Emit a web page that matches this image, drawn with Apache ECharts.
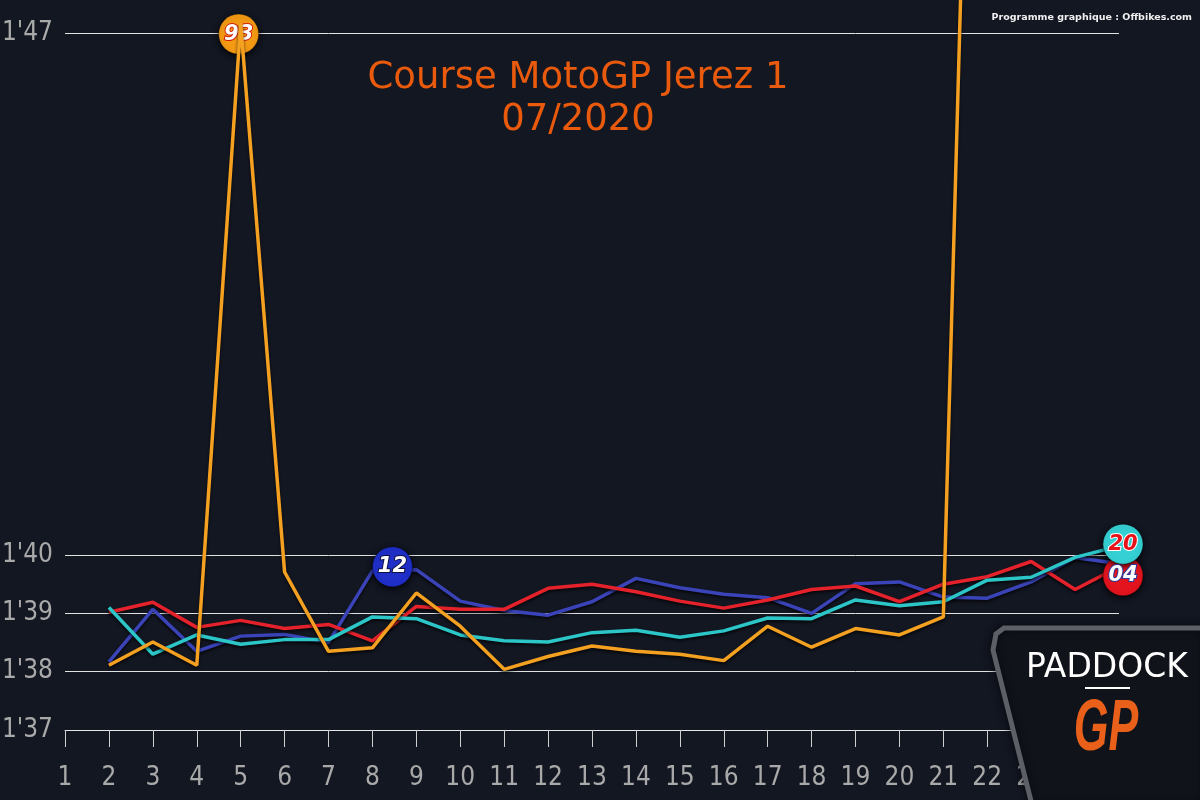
<!DOCTYPE html>
<html><head><meta charset="utf-8">
<script src="https://cdn.jsdelivr.net/npm/echarts@6/dist/echarts.min.js"></script>
<style>html,body{margin:0;padding:0;background:#131722;}#c{width:1200px;height:800px;}</style>
</head><body><div id="c"></div>
<script>
// laps (x) and lap times in seconds (y)
const lapsMarquez = [2,3,4,5,6,7,8,9,10,11,12,13,14,15,16,17,18,19,20,21,22];
const lapsOthers  = [2,3,4,5,6,7,8,9,10,11,12,13,14,15,16,17,18,19,20,21,22,23,24,25];
const marquez93   = [98.11,98.51,98.11,107.17,99.71,98.35,98.41,99.35,98.78,98.04,98.26,98.44,98.35,98.30,98.19,98.78,98.42,98.74,98.63,98.94,124];
const vinales12   = [98.17,99.07,98.35,98.61,98.64,98.50,99.73,99.75,99.21,99.05,98.97,99.20,99.60,99.44,99.33,99.27,99.00,99.51,99.54,99.28,99.26,99.54,99.96,99.85];
const quartararo20= [99.10,98.30,98.63,98.47,98.55,98.55,98.94,98.91,98.63,98.53,98.51,98.67,98.71,98.59,98.70,98.92,98.91,99.23,99.13,99.20,99.57,99.62,99.96,100.12];
const dovizioso04 = [99.02,99.19,98.76,98.88,98.74,98.81,98.53,99.12,99.07,99.07,99.43,99.50,99.37,99.21,99.09,99.23,99.41,99.47,99.20,99.50,99.63,99.89,99.41,99.80];
const yTickLabels = {97:"1'37",98:"1'38",99:"1'39",100:"1'40",107:"1'47"};
const breakGridValues = [100, 107];
const titleText = "Course MotoGP Jerez 1\n07/2020";
const creditText = "Programme graphique : Offbikes.com";

const pairs = (xs, ys) => ys.map((v, i) => [xs[i], v]);
const lineStyleOf = c => ({color: c, width: 3.5, shadowColor: 'rgba(0,0,0,0.7)', shadowBlur: 3, shadowOffsetY: 2});
const narrowFont = '"DejaVu Sans Condensed", "Liberation Sans Narrow", "Liberation Sans", sans-serif';

function badge(x, y, text, fill, txtColor, txtBorder, offset) {
  return {
    coord: [x, y], symbol: 'circle', symbolSize: 40, symbolOffset: offset,
    itemStyle: {color: fill, borderColor: 'rgba(0,0,0,0.35)', borderWidth: 1, shadowColor: 'rgba(0,0,0,0.8)', shadowBlur: 6, shadowOffsetY: 2},
    label: {show: true, position: 'inside', formatter: text, color: txtColor, fontSize: 21, fontWeight: 'bold', fontStyle: 'italic',
      fontFamily: 'DejaVu Sans', textBorderColor: txtBorder, textBorderWidth: 2}
  };
}

const chart = echarts.init(document.getElementById('c'), null, {renderer: 'canvas'});
chart.setOption({
  backgroundColor: '#131722',
  animation: false,
  grid: {left: 65, right: 81, top: 0, bottom: 70, containLabel: false, outerBoundsMode: 'none'},
  xAxis: {
    type: 'value', min: 1, max: 25, interval: 1,
    axisLine: {show: true, lineStyle: {color: '#e6e6e6', width: 1}},
    axisTick: {show: true, length: 17, lineStyle: {color: '#d0d0d0', width: 1}},
    axisLabel: {color: '#a9a9a9', fontSize: 26, fontFamily: narrowFont, margin: 35},
    splitLine: {show: false}
  },
  yAxis: {
    type: 'value', min: 97, max: 107.566, interval: 1,
    breaks: [{start: 100, end: 107, gap: 8.954}],
    breakArea: {show: false},
    axisLine: {show: false}, axisTick: {show: false},
    axisLabel: {color: '#a9a9a9', fontSize: 26, fontFamily: narrowFont, margin: 12,
      formatter: v => yTickLabels[Math.round(v)] || ''},
    splitLine: {show: true, showMaxLine: false, lineStyle: {color: '#e2e2e2', width: 1}}
  },
  series: [
    {type: 'line', name: '12', data: pairs(lapsOthers, vinales12), symbol: 'none', clip: false, lineStyle: lineStyleOf('#3a44b8'), z: 2,
      markLine: {silent: true, symbol: 'none', label: {show: false}, z: 1,
        lineStyle: {color: '#e2e2e2', width: 1, type: 'solid', shadowBlur: 0, shadowOffsetY: 0},
        emphasis: {disabled: true},
        data: breakGridValues.map(v => ({yAxis: v}))},
      markPoint: {data: [badge(lapsOthers[6], vinales12[6], '12', '#1f2fc8', '#ffffff', '#101040', [20, -4])]}},
    {type: 'line', name: '04', data: pairs(lapsOthers, dovizioso04), symbol: 'none', clip: false, lineStyle: lineStyleOf('#e5222b'), z: 3,
      markPoint: {data: [badge(lapsOthers[23], dovizioso04[23], '04', '#e3141e', '#ffffff', '#2a3a9a', [4, 9])]}},
    {type: 'line', name: '20', data: pairs(lapsOthers, quartararo20), symbol: 'none', clip: false, lineStyle: lineStyleOf('#2cc6c8'), z: 4,
      markPoint: {data: [badge(lapsOthers[23], quartararo20[23], '20', '#35d0d4', '#e8121a', '#ffffff', [4, -2])]}},
    {type: 'line', name: '93', data: pairs(lapsMarquez, marquez93), symbol: 'none', clip: false, lineStyle: lineStyleOf('#f4a020'), z: 5,
      markPoint: {data: [badge(lapsMarquez[3], marquez93[3], '93', '#f49a14', '#ffffff', '#d0200a', [-2, 11])]}}
  ],
  graphic: [
    {type: 'text', x: 578, y: 99, z: 50, style: {text: titleText, fill: '#ea5a0c', font: '37px "DejaVu Sans"', textAlign: 'center', textVerticalAlign: 'middle', lineHeight: 42}},
    {type: 'text', x: 1192, y: 18, z: 50, style: {text: creditText, fill: '#f0f0f0', font: 'bold 9.5px "DejaVu Sans"', textAlign: 'right', textVerticalAlign: 'middle'}},
    {type: 'polygon', z: 100, shape: {points: [[1004,628],[1205,628],[1205,805],[1032,805],[993,650],[996,634]]},
      style: {fill: '#10131a', stroke: '#5c5f66', lineWidth: 5, shadowColor: 'rgba(0,0,0,0.6)', shadowBlur: 8}},
    {type: 'text', x: 1107, y: 668, z: 101, style: {text: 'PADDOCK', fill: '#ffffff', font: '33px "DejaVu Sans"', textAlign: 'center', textVerticalAlign: 'middle'}},
    {type: 'line', z: 101, shape: {x1: 1085, y1: 688, x2: 1130, y2: 688}, style: {stroke: '#ffffff', lineWidth: 2}},
    {type: 'text', x: 1106, y: 730, z: 101, scaleX: 0.62,
      style: {text: 'GP', fill: '#e8601a', font: 'italic bold 72px "Liberation Sans"', textAlign: 'center', textVerticalAlign: 'middle'}}
  ]
});
</script></body></html>
